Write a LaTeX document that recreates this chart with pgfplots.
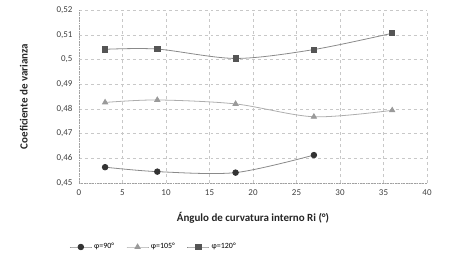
\documentclass[border=0pt]{standalone}
\usepackage{pgfplots}
\pgfplotsset{compat=1.18}
\usepackage{fontspec}
\setmainfont{Carlito}
\definecolor{gridc}{HTML}{C8C8C8}
\definecolor{linec}{HTML}{8A8A8A}
\definecolor{m90}{HTML}{333333}
\definecolor{m105}{HTML}{9A9A9A}
\definecolor{m120}{HTML}{555555}
\begin{document}
\begin{tikzpicture}
\begin{axis}[
  scale only axis, width=348bp, height=173bp,
  xmin=0, xmax=40, ymin=0.45, ymax=0.52,
  xtick={0,5,...,40}, ytick={0.45,0.46,...,0.52},
  /pgf/number format/assume math mode=true,
  /pgf/number format/use comma,
  yticklabel style={/pgf/number format/fixed, /pgf/number format/precision=2},
  grid=major, major grid style={gridc, dashed, line width=0.4pt},
  axis line style={gridc!80!black, densely dotted, line width=0.6pt},
  axis x line*=bottom, axis y line*=left,
  tick style={draw=none},
  tick label style={font=\fontsize{9}{10}\selectfont, text=black!75},
  xticklabel style={yshift=-3bp},
  yticklabel style={xshift=-3bp},
  xlabel={\textbf{Ángulo de curvatura interno Ri (°)}},
  ylabel={\textbf{Coeficiente de varianza}},
  label style={font=\fontsize{11}{12}\selectfont, text=black!85},
  xlabel style={yshift=-10bp},
  ylabel style={yshift=22bp},
  legend style={at={(-0.028,-0.37)}, anchor=west, draw=none, legend columns=3,
    inner sep=0pt,
    font=\fontsize{8}{9}\selectfont, /tikz/every even column/.append style={column sep=10bp}},
  legend image code/.code={\draw[mark repeat=2,mark phase=2] plot coordinates {(0bp,0bp)(11bp,0bp)(22bp,0bp)};},
  legend cell align=left,
]
\addplot[linec, line width=0.8pt, smooth, mark=*, mark size=2.8bp, mark options={fill=m90, draw=m90}]
  coordinates {(3,0.4564) (9,0.4546) (18,0.4542) (27,0.4613)};
\addlegendentry{φ=90°}
\addplot[linec!70, line width=0.8pt, smooth, mark=triangle*, mark size=3bp, mark options={fill=m105, draw=m105}]
  coordinates {(3,0.4826) (9,0.4836) (18,0.4820) (27,0.4768) (36,0.4794)};
\addlegendentry{φ=105°}
\addplot[linec, line width=0.8pt, smooth, mark=square*, mark size=2.6bp, mark options={fill=m120, draw=m120}]
  coordinates {(3,0.5041) (9,0.5042) (18,0.5004) (27,0.5040) (36,0.5106)};
\addlegendentry{φ=120°}
\end{axis}
\path (current axis.south west) ++(-79bp,-76bp) rectangle ++(463bp,259bp);
\end{tikzpicture}
\end{document}
